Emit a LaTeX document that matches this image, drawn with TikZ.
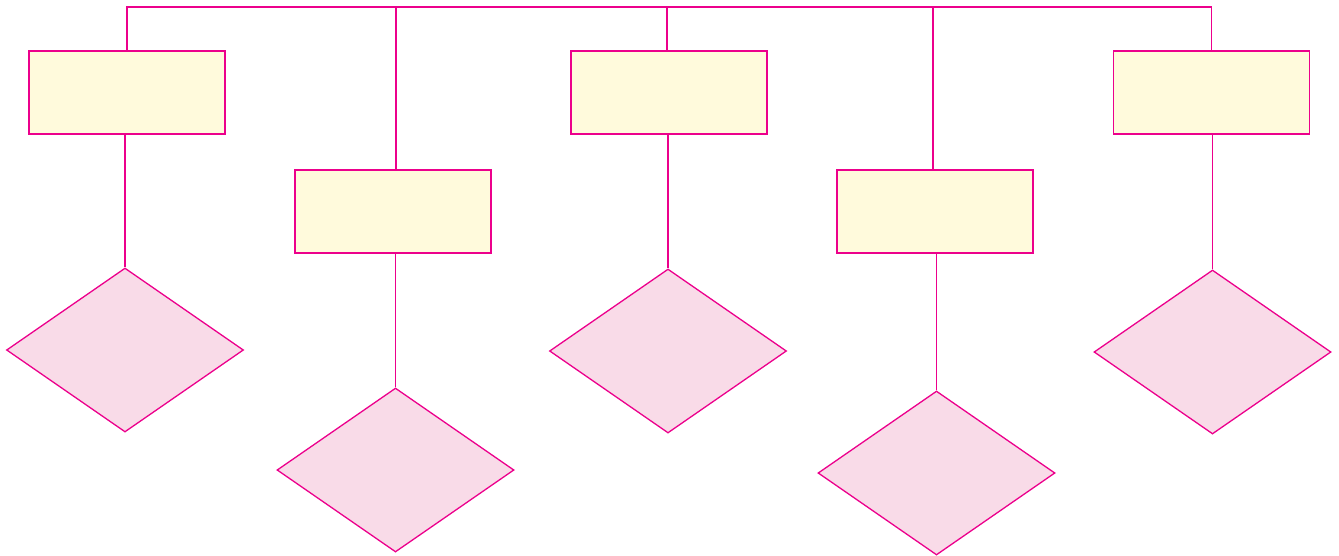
\documentclass[tikz,border=0pt]{standalone}
\usepackage{tikz}
\usetikzlibrary{positioning, shapes.geometric}
\definecolor{linkpink}{HTML}{EC008C}
\definecolor{boxfill}{HTML}{FFFADC}
\definecolor{diafill}{HTML}{F9DBE8}
\begin{document}
\begin{tikzpicture}[
  x=1pt, y=-1pt,
  every path/.style={line width=1.3pt},
  block/.style={draw=linkpink, fill=boxfill, minimum width=196pt,
    minimum height=83pt, inner sep=0pt},
  decision/.style={diamond, draw=linkpink, fill=diafill, minimum width=237pt,
    minimum height=164pt, inner sep=0pt},
  link/.style={draw=linkpink},
]
  \useasboundingbox (0,0) rectangle (1339,555);

  % Blocks
  \node[block] (b1) at (127, 92.5)   {};
  \node[block] (b2) at (393, 211.5)  {};
  \node[block] (b3) at (669, 92.5)   {};
  \node[block] (b4) at (935, 211.5)  {};
  \node[block] (b5) at (1211.5, 92.5) {};

  % Decisions
  \node[decision] (d1) at (125, 350)    {};
  \node[decision] (d2) at (395.5, 470)  {};
  \node[decision] (d3) at (668, 351)    {};
  \node[decision] (d4) at (936.5, 473)  {};
  \node[decision] (d5) at (1212.5, 352) {};

  % Top bus
  \coordinate (t1) at (127, 7);
  \coordinate (t5) at (1211.5, 7);
  \draw[link] (b1.north) -- (t1) -- (t5) -- (b5.north);
  \draw[link] ([xshift=-2pt]b3.north) -- ([xshift=-2pt]b3.north |- t1);
  \draw[link] ([xshift=3pt]b2.north) -- ([xshift=3pt]b2.north |- t1);
  \draw[link] ([xshift=-2pt]b4.north) -- ([xshift=-2pt]b4.north |- t1);

  % Block to decision
  \foreach \i in {1,...,5} \draw[link] (d\i.north |- b\i.south) -- (d\i.north);
\end{tikzpicture}
\end{document}
